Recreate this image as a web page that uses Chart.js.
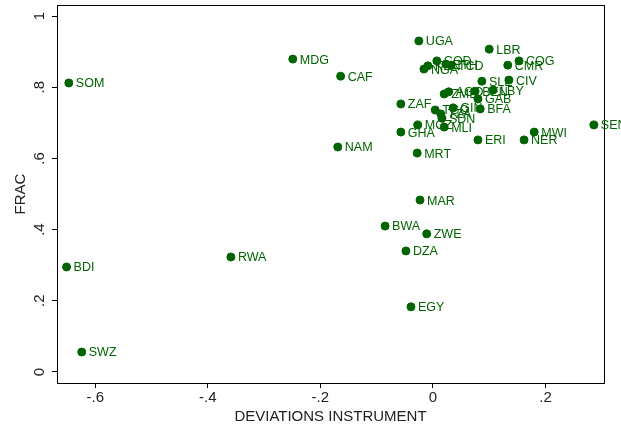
<!DOCTYPE html>
<html>
<head>
<meta charset="utf-8">
<script src="https://cdn.jsdelivr.net/npm/chart.js@4"></script>
<style>
  html, body { margin: 0; padding: 0; background: #fff; }
  #wrap { width: 621px; height: 430px; }
</style>
</head>
<body>
<div id="wrap"><canvas id="chart" width="621" height="430"></canvas></div>
<script>
// Country codes and values
const countries = ['SOM','BDI','SWZ','RWA','MDG','CAF','NAM','BWA','ZWE','DZA','EGY','MAR','MRT','GHA','ZAF','MOZ',
  'UGA','LBR','COG','CMR','COD','NGA','KEN','ETH','TCD','SLE','CIV','ZMB','AGO','BEN','LBY','GAB',
  'TGO','TZA','SDN','GIN','BFA','MLI','ERI','NER','MWI','SEN'];
const deviations = [-0.647,-0.651,-0.624,-0.359,-0.249,-0.164,-0.169,-0.085,-0.011,-0.048,-0.039,-0.023,-0.028,-0.057,-0.057,-0.027,
  -0.025,0.100,0.153,0.133,0.007,-0.016,-0.009,0.023,0.032,0.087,0.135,0.020,0.028,0.075,0.107,0.080,
  0.004,0.014,0.016,0.036,0.084,0.020,0.080,0.162,0.180,0.286];
const frac = [0.812,0.295,0.056,0.323,0.879,0.831,0.632,0.410,0.388,0.340,0.183,0.483,0.615,0.674,0.753,0.694,
  0.930,0.907,0.874,0.862,0.874,0.851,0.860,0.865,0.862,0.817,0.820,0.781,0.787,0.789,0.792,0.767,
  0.736,0.725,0.713,0.742,0.739,0.688,0.652,0.652,0.674,0.694];

const xTicks = [-0.6, -0.4, -0.2, 0, 0.2];
const xTickLabels = ['-.6', '-.4', '-.2', '0', '.2'];
const yTicks = [0, 0.2, 0.4, 0.6, 0.8, 1];
const yTickLabels = ['0', '.2', '.4', '.6', '.8', '1'];

const green = '#006400';
const font = '"Liberation Sans", Arial, Helvetica, sans-serif';

const points = deviations.map((d, i) => ({ x: d, y: frac[i] }));

// frame, rotated y tick labels and point labels
const decorate = {
  id: 'decorate',
  afterDraw(chart) {
    const ctx = chart.ctx;
    const a = chart.chartArea;
    const ys = chart.scales.y;
    ctx.save();
    ctx.strokeStyle = '#000';
    ctx.lineWidth = 1;
    ctx.strokeRect(a.left + 0.5, a.top + 0.5, a.right - a.left, a.bottom - a.top);

    ctx.fillStyle = '#222';
    ctx.font = '15px ' + font;
    ctx.textAlign = 'center';
    ctx.textBaseline = 'middle';
    yTicks.forEach((v, i) => {
      const py = ys.getPixelForValue(v);
      ctx.save();
      ctx.translate(40, py);
      ctx.rotate(-Math.PI / 2);
      ctx.fillText(yTickLabels[i], 0, 0);
      ctx.restore();
    });

    ctx.save();
    ctx.translate(21, (a.top + a.bottom) / 2);
    ctx.rotate(-Math.PI / 2);
    ctx.fillText('FRAC', 0, 0);
    ctx.restore();

    const meta = chart.getDatasetMeta(0);
    ctx.fillStyle = green;
    ctx.font = '12.5px ' + font;
    ctx.textAlign = 'left';
    meta.data.forEach((el, i) => {
      ctx.fillText(countries[i], el.x + 7, el.y + 1);
    });
    ctx.restore();
  }
};

new Chart(document.getElementById('chart'), {
  type: 'scatter',
  data: {
    datasets: [{
      data: points,
      backgroundColor: green,
      borderColor: green,
      pointRadius: 4,
      pointHoverRadius: 4
    }]
  },
  options: {
    responsive: false,
    animation: false,
    events: [],
    layout: { padding: { top: 5, right: 17, left: 0, bottom: 0 } },
    plugins: { legend: { display: false }, tooltip: { enabled: false } },
    scales: {
      x: {
        type: 'linear',
        min: -0.668,
        max: 0.304,
        afterBuildTicks: s => { s.ticks = xTicks.map(v => ({ value: v })); },
        afterFit: s => { s.height = 47; },
        grid: { drawOnChartArea: false, drawTicks: true, tickLength: 5, color: '#000' },
        border: { display: false },
        ticks: {
          color: '#222',
          font: { family: font, size: 15 },
          padding: 1,
          maxRotation: 0,
          callback: (v) => xTickLabels[xTicks.indexOf(v)]
        },
        title: {
          display: true,
          text: 'DEVIATIONS INSTRUMENT',
          color: '#222',
          font: { family: font, size: 15 },
          padding: { top: 0, bottom: 4 }
        }
      },
      y: {
        type: 'linear',
        min: -0.031,
        max: 1.031,
        afterBuildTicks: s => { s.ticks = yTicks.map(v => ({ value: v })); },
        afterFit: s => { s.width = 57; },
        grid: { drawOnChartArea: false, drawTicks: true, tickLength: 5, color: '#000' },
        border: { display: false },
        ticks: { display: false }
      }
    }
  },
  plugins: [decorate]
});
</script>
</body>
</html>
